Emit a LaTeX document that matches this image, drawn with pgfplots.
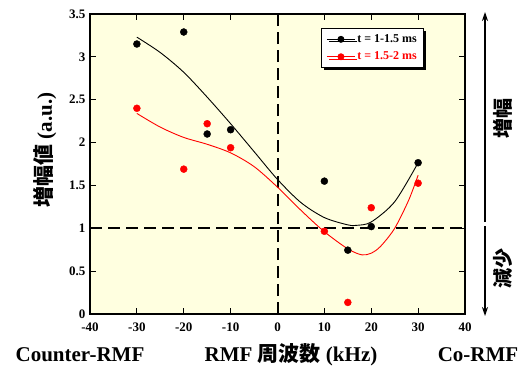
\documentclass[border=0pt]{standalone}
\usepackage{pgfplots}
\pgfplotsset{compat=1.18}
\usepackage{fontspec}
\setmainfont{Liberation Serif}
\newfontfamily\jp{Noto Sans CJK JP}
\usetikzlibrary{shadows,arrows.meta}
\definecolor{bgyellow}{RGB}{255,255,224}
\begin{document}
\begin{tikzpicture}[x=1pt,y=1pt]
\path[use as bounding box] (0,0) rectangle (531,368);
\begin{axis}[at={(90pt,54pt)}, anchor=south west, scale only axis,
  width=375pt, height=300pt,
  xmin=-40, xmax=40, ymin=0, ymax=3.5,
  xtick={-40,-30,-20,-10,0,10,20,30,40},
  xticklabels={-40,-30,-20,-10,0,10,20,30,40},
  ytick={0,0.5,1,1.5,2,2.5,3,3.5},
  yticklabels={0,0.5,1,1.5,2,2.5,3,3.5},
  tick align=inside, major tick length=6pt,
  tick style={black, line width=1pt},
  axis line style={black, line width=1.6pt},
  axis background/.style={fill=bgyellow},
  ticklabel style={font=\fontsize{13}{14}\selectfont\bfseries},
  xticklabel style={yshift=-5pt},
  yticklabel style={xshift=-1pt},
  legend style={at={(0.616,0.953)}, anchor=north west, draw=black, line width=1pt, fill=white,
    drop shadow={shadow xshift=2.5pt, shadow yshift=-2.5pt, fill=black, opacity=1},
    font=\fontsize{12}{13}\selectfont\bfseries, inner xsep=5pt, inner ysep=4pt, row sep=4pt},
  legend cell align=left,
  legend image code/.code={\draw[mark repeat=2,mark phase=2,#1] plot coordinates {(0pt,0pt) (14pt,0pt) (28pt,0pt)};},
]
\addplot[black, line width=2pt, dash pattern=on 12pt off 6pt, forget plot] coordinates {(-40,1) (40,1)};
\addplot[black, line width=2pt, dash pattern=on 12pt off 6pt, forget plot] coordinates {(0,0) (0,3.5)};
% fitted curves
\addplot[black, line width=0.9pt, smooth, forget plot] coordinates {
(-30,3.23) (-25,3.05) (-20,2.82) (-15,2.53) (-10,2.22) (-5,1.895) (0,1.57) (5,1.30) (10,1.125) (15,1.04) (17,1.035) (20,1.074) (25,1.31) (30,1.765)};
\addplot[red, line width=0.9pt, smooth, forget plot] coordinates {
(-30,2.34) (-25,2.18) (-20,2.06) (-15,1.98) (-10,1.88) (-5,1.72) (0,1.48) (5,1.21) (10,0.96) (15,0.76) (18,0.69) (20,0.71) (22,0.79) (25,1.00) (28,1.33) (30,1.62)};
% data points
\addplot[only marks, mark=*, mark size=3.5pt, black, forget plot] coordinates {
(-30,3.15) (-20,3.29) (-15,2.10) (-10,2.15) (10,1.55) (15,0.745) (20,1.02) (30,1.765)};
\addplot[only marks, mark=*, mark size=3.5pt, red, forget plot] coordinates {
(-30,2.40) (-20,1.69) (-15,2.22) (-10,1.94) (10,0.965) (15,0.135) (20,1.24) (30,1.526)};
\addlegendimage{black, line width=0.9pt, mark=*, mark size=3pt}
\addlegendentry{t = 1-1.5 ms}
\addlegendimage{red, line width=0.9pt, mark=*, mark size=3pt}
\addlegendentry{\textcolor{red}{t = 1.5-2 ms}}
\end{axis}
% axis labels
\node[rotate=90, font=\fontsize{21}{23}\selectfont] at (45,218) {{\jp\bfseries 増幅値} \bfseries(a.u.)};
\node[font=\fontsize{21}{24}\selectfont\bfseries] at (80,13) {Counter-RMF};
\node[font=\fontsize{21}{24}\selectfont\bfseries] at (291,13) {RMF {\jp 周波数} (kHz)};
\node[font=\fontsize{21}{24}\selectfont\bfseries] at (478,13) {Co-RMF};
% right annotations
\draw[line width=1.2pt, -{Stealth[length=9pt, width=6pt]}] (485,146) -- (485,356);
\draw[line width=1.2pt, -{Stealth[length=9pt, width=6pt]}] (485,142) -- (485,52);
\node[rotate=90, font=\fontsize{20}{22}\selectfont\jp\bfseries] at (503,250) {増幅};
\node[rotate=90, font=\fontsize{20}{22}\selectfont\jp\bfseries] at (503,100) {減少};
\end{tikzpicture}
\end{document}
